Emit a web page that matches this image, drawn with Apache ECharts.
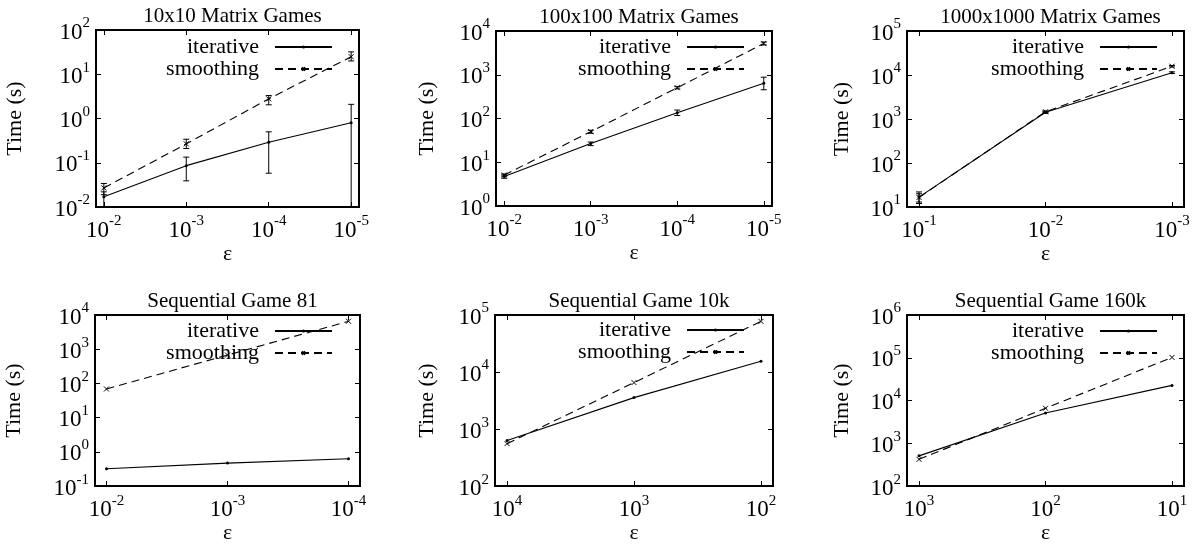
<!DOCTYPE html>
<html>
<head>
<meta charset="utf-8">
<script src="https://cdn.jsdelivr.net/npm/echarts@6/dist/echarts.min.js"></script>
<style>
html,body{margin:0;padding:0;background:#fff;}
#chart{width:1196px;height:545px;}
</style>
</head>
<body>
<div id="chart"></div>
<script>
// ---- data ----
var titles = ['10x10 Matrix Games', '100x100 Matrix Games', '1000x1000 Matrix Games',
              'Sequential Game 81', 'Sequential Game 10k', 'Sequential Game 160k'];
var seriesNames = ['iterative', 'smoothing'];

var p1Eps = [1e-2, 1e-3, 1e-4, 1e-5];
var p1Iter = [0.017, 0.086, 0.29, 0.80];
var p1IterLo = [0.009, 0.039, 0.058, 0.001];
var p1IterHi = [0.022, 0.134, 0.50, 2.09];
var p1Smooth = [0.027, 0.267, 2.78, 24.9];
var p1SmoothLo = [0.019, 0.21, 2.04, 20];
var p1SmoothHi = [0.034, 0.34, 3.3, 32];

var p2Eps = [1e-2, 1e-3, 1e-4, 1e-5];
var p2Iter = [4.7, 26.7, 135, 640];
var p2IterLo = [4.3, 24, 117, 454];
var p2IterHi = [5.1, 29, 156, 880];
var p2Smooth = [5.1, 50, 505, 5200];
var p2SmoothLo = [4.8, 46, 475, 4800];
var p2SmoothHi = [5.4, 54, 535, 5600];

var p3Eps = [1e-1, 1e-2, 1e-3];
var p3Iter = [16.8, 1420, 11300];
var p3IterLo = [12, 1340, 10800];
var p3IterHi = [22, 1500, 11800];
var p3Smooth = [16.5, 1460, 15800];
var p3SmoothLo = [13, 1400, 15200];
var p3SmoothHi = [20, 1520, 16400];

var p4Eps = [1e-2, 1e-3, 1e-4];
var p4Iter = [0.32, 0.47, 0.63];
var p4Smooth = [69, 676, 6560];

var p5Eps = [1e4, 1e3, 1e2];
var p5Iter = [631, 3560, 15400];
var p5Smooth = [555, 6540, 77300];

var p6Eps = [1e3, 1e2, 1e1];
var p6Iter = [509, 5110, 22600];
var p6Smooth = [422, 6600, 102000];

// y-axis decade ranges
var yRanges = [[1e-2, 1e2], [1e0, 1e4], [1e1, 1e5], [1e-1, 1e4], [1e2, 1e5], [1e2, 1e6]];

// ---- layout ----
var boxes = [
  {l: 96, r: 359, t: 30, b: 207},
  {l: 496, r: 772, t: 31, b: 206},
  {l: 907, r: 1184, t: 31, b: 207},
  {l: 95, r: 360, t: 315, b: 492},
  {l: 495, r: 773, t: 315, b: 492},
  {l: 907, r: 1184, t: 315, b: 492}
];
var yNameGap = [70, 58, 54, 70, 57, 54];
var legendPos = [
  {right: 1196 - 333, top: 35},
  {right: 1196 - 745, top: 35},
  {right: 1196 - 1158, top: 35},
  {right: 1196 - 333, top: 319},
  {right: 1196 - 745, top: 318},
  {right: 1196 - 1158, top: 319}
];

var panels = [
  {eps: p1Eps, it: p1Iter, sm: p1Smooth, itLo: p1IterLo, itHi: p1IterHi, smLo: p1SmoothLo, smHi: p1SmoothHi},
  {eps: p2Eps, it: p2Iter, sm: p2Smooth, itLo: p2IterLo, itHi: p2IterHi, smLo: p2SmoothLo, smHi: p2SmoothHi},
  {eps: p3Eps, it: p3Iter, sm: p3Smooth, itLo: p3IterLo, itHi: p3IterHi, smLo: p3SmoothLo, smHi: p3SmoothHi},
  {eps: p4Eps, it: p4Iter, sm: p4Smooth},
  {eps: p5Eps, it: p5Iter, sm: p5Smooth},
  {eps: p6Eps, it: p6Iter, sm: p6Smooth}
];

var FONT = 'Liberation Serif';
var FS = 21;

function powLabel(v) {
  var e = Math.log10(v);
  var r = Math.round(e);
  if (Math.abs(e - r) > 1e-6) return '';
  return '{b|10}{s|' + r + '}';
}
var labelRich = {
  b: {fontFamily: FONT, fontSize: 23, color: '#000', verticalAlign: 'bottom', lineHeight: 28},
  s: {fontFamily: FONT, fontSize: 15, color: '#000', verticalAlign: 'top', lineHeight: 28}
};

function pair(xs, ys) { return xs.map(function (x, i) { return [x, ys[i]]; }); }
function triple(xs, lo, hi) { return xs.map(function (x, i) { return [x, lo[i], hi[i]]; }); }

function errRender(params, api) {
  var x = api.value(0), lo = api.value(1), hi = api.value(2);
  var a = api.coord([x, lo]), b = api.coord([x, hi]);
  var w = 3;
  var st = {stroke: '#000', lineWidth: 1};
  return {
    type: 'group',
    children: [
      {type: 'line', shape: {x1: a[0], y1: a[1], x2: b[0], y2: b[1]}, style: st},
      {type: 'line', shape: {x1: a[0] - w, y1: a[1], x2: a[0] + w, y2: a[1]}, style: st},
      {type: 'line', shape: {x1: b[0] - w, y1: b[1], x2: b[0] + w, y2: b[1]}, style: st}
    ]
  };
}

var grid = [], xAxis = [], yAxis = [], series = [], title = [], legend = [];
var crossPath = 'path://M0,0L10,10M10,0L0,10';
var PAD = 0.095;

panels.forEach(function (p, i) {
  var bx = boxes[i];
  grid.push({left: bx.l, top: bx.t, width: bx.r - bx.l, height: bx.b - bx.t,
             show: true, borderColor: '#000', borderWidth: 2, backgroundColor: 'transparent'});
  var xmin = Math.min.apply(null, p.eps), xmax = Math.max.apply(null, p.eps);
  var xlo = Math.pow(10, Math.log10(xmin) - PAD), xhi = Math.pow(10, Math.log10(xmax) + PAD);
  var tick = {show: true, inside: true, length: 5, lineStyle: {color: '#000', width: 1}};
  xAxis.push({type: 'log', logBase: 10, gridIndex: i, inverse: true, min: xlo, max: xhi,
    position: 'bottom', axisLine: {show: false}, axisTick: tick, splitLine: {show: false},
    axisLabel: {formatter: powLabel, rich: labelRich, margin: 7, showMinLabel: true, showMaxLabel: true, hideOverlap: false},
    name: 'ε', nameLocation: 'middle', nameGap: 28,
    nameTextStyle: {fontFamily: FONT, fontSize: 22, color: '#000'}});
  xAxis.push({type: 'log', logBase: 10, gridIndex: i, inverse: true, min: xlo, max: xhi,
    position: 'top', axisLine: {show: false}, axisTick: tick, splitLine: {show: false},
    axisLabel: {show: false}});
  var yr = yRanges[i];
  yAxis.push({type: 'log', logBase: 10, gridIndex: i, min: yr[0], max: yr[1], position: 'left',
    axisLine: {show: false}, axisTick: tick, splitLine: {show: false},
    axisLabel: {formatter: powLabel, rich: labelRich, margin: 6, showMinLabel: true, showMaxLabel: true},
    name: 'Time (s)', nameLocation: 'middle', nameGap: yNameGap[i],
    nameTextStyle: {fontFamily: FONT, fontSize: 22, color: '#000'}});
  yAxis.push({type: 'log', logBase: 10, gridIndex: i, min: yr[0], max: yr[1], position: 'right',
    axisLine: {show: false}, axisTick: tick, splitLine: {show: false}, axisLabel: {show: false}});

  var xi = 2 * i, yi = 2 * i;
  series.push({name: seriesNames[0], type: 'line', xAxisIndex: xi, yAxisIndex: yi,
    data: pair(p.eps, p.it), symbol: 'circle', symbolSize: 3, showAllSymbol: true,
    lineStyle: {color: '#000', width: 1.1, type: 'solid'}, itemStyle: {color: '#000'},
    animation: false, z: 3});
  series.push({name: seriesNames[1], type: 'line', xAxisIndex: xi, yAxisIndex: yi,
    data: pair(p.eps, p.sm), symbol: crossPath, symbolSize: 5, showAllSymbol: true,
    lineStyle: {color: '#000', width: 1.1, type: [8, 5]},
    itemStyle: {color: '#000', borderColor: '#000', borderWidth: 1},
    animation: false, z: 3});
  if (p.itLo) {
    series.push({type: 'custom', xAxisIndex: xi, yAxisIndex: yi, clip: true,
      data: triple(p.eps, p.itLo, p.itHi), renderItem: errRender,
      encode: {x: 0, y: [1, 2]}, animation: false, silent: true, z: 4});
    series.push({type: 'custom', xAxisIndex: xi, yAxisIndex: yi, clip: true,
      data: triple(p.eps, p.smLo, p.smHi), renderItem: errRender,
      encode: {x: 0, y: [1, 2]}, animation: false, silent: true, z: 4});
  }
  title.push({text: titles[i], left: (bx.l + bx.r) / 2, textAlign: 'center', top: bx.t - 29,
    textStyle: {fontFamily: FONT, fontSize: FS, fontWeight: 'normal', color: '#000'}});
  legend.push({data: seriesNames, orient: 'vertical', align: 'right',
    right: legendPos[i].right, top: legendPos[i].top + 1, itemWidth: 57, itemHeight: 4, itemGap: 0,
    selectedMode: false, padding: 0,
    textStyle: {fontFamily: FONT, fontSize: 22, color: '#000', padding: [0, 11, 0, 0]}});
});

var chart = echarts.init(document.getElementById('chart'));
chart.setOption({
  animation: false,
  backgroundColor: '#fff',
  title: title,
  legend: legend,
  grid: grid,
  xAxis: xAxis,
  yAxis: yAxis,
  series: series
});
</script>
</body>
</html>
